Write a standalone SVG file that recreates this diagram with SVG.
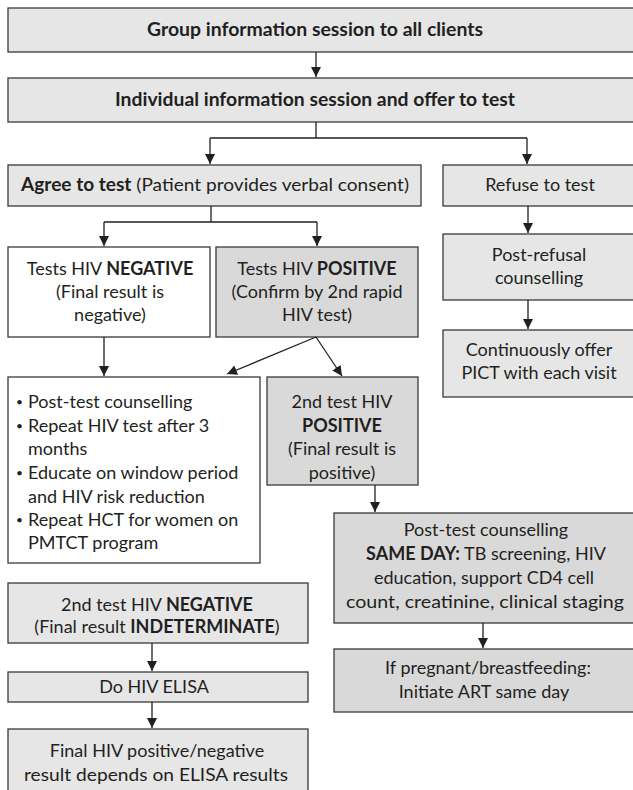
<svg xmlns="http://www.w3.org/2000/svg" width="633" height="790" viewBox="0 0 633 790">
<style>
  .box{stroke:#3a3a3a;stroke-width:1.3}
  .l{fill:#e6e6e7}
  .d{fill:#d9d9da}
  .w{fill:#ffffff}
  text{font-family:Lato,"Open Sans","Liberation Sans",sans-serif;font-size:18px;fill:#231f20}
  .c{text-anchor:middle}
  .b{font-weight:bold}
  .bu{font-size:12px}
  .con{stroke:#231f20;stroke-width:1.3;fill:none}
</style>
<defs>
  <marker id="ah" viewBox="0 0 10 10" refX="10" refY="5" markerWidth="10" markerHeight="11" markerUnits="userSpaceOnUse" orient="auto">
    <path d="M0,0 L10,5 L0,10 z" fill="#231f20"/>
  </marker>
</defs>
<rect width="633" height="790" fill="#ffffff"/>

<g id="n1"><rect class="box l" x="8" y="8" width="640" height="44"/><text class="c b" x="315" y="36" textLength="336" lengthAdjust="spacingAndGlyphs">Group information session to all clients</text></g>
<g id="n2"><rect class="box l" x="8" y="78" width="640" height="44"/><text class="c b" x="315" y="106" textLength="400" lengthAdjust="spacingAndGlyphs">Individual information session and offer to test</text></g>
<g id="n3"><rect class="box l" x="8" y="165" width="413" height="41"/><text class="c" x="215" y="191" textLength="388" lengthAdjust="spacingAndGlyphs"><tspan class="b">Agree to test</tspan> (Patient provides verbal consent)</text></g>
<g id="n4"><rect class="box l" x="443" y="165" width="200" height="41"/><text class="c" x="540" y="191">Refuse to test</text></g>
<g id="n5"><rect class="box w" x="8" y="247" width="202" height="90"/><text class="c" x="110" y="275">Tests HIV <tspan class="b">NEGATIVE</tspan></text><text class="c" x="110" y="298">(Final result is</text><text class="c" x="110" y="321">negative)</text></g>
<g id="n6"><rect class="box d" x="216" y="247" width="202" height="90"/><text class="c" x="317" y="275">Tests HIV <tspan class="b">POSITIVE</tspan></text><text class="c" x="317" y="298">(Confirm by 2nd rapid</text><text class="c" x="317" y="321">HIV test)</text></g>
<g id="n7"><rect class="box l" x="443" y="234" width="200" height="66"/><text class="c" x="539" y="261">Post-refusal</text><text class="c" x="539" y="284">counselling</text></g>
<g id="n8"><rect class="box l" x="443" y="330" width="200" height="67"/><text class="c" x="539" y="356">Continuously offer</text><text class="c" x="539" y="379">PICT with each visit</text></g>
<g id="n9"><rect class="box w" x="8" y="377" width="252" height="186"/>
  <text class="bu" x="16" y="406">•</text><text x="28" y="408">Post-test counselling</text>
  <text class="bu" x="16" y="430">•</text><text x="28" y="432">Repeat HIV test after 3</text>
  <text x="28" y="455">months</text>
  <text class="bu" x="16" y="477">•</text><text x="28" y="479">Educate on window period</text>
  <text x="28" y="503">and HIV risk reduction</text>
  <text class="bu" x="16" y="524">•</text><text x="28" y="526">Repeat HCT for women on</text>
  <text x="28" y="549">PMTCT program</text>
</g>
<g id="n10"><rect class="box d" x="267" y="377" width="151" height="108"/><text class="c" x="342" y="408">2nd test HIV</text><text class="c b" x="342" y="432">POSITIVE</text><text class="c" x="342" y="455">(Final result is</text><text class="c" x="342" y="479">positive)</text></g>
<g id="n11"><rect class="box d" x="334" y="513" width="310" height="110"/><text class="c" x="486" y="536">Post-test counselling</text><text class="c" x="486" y="560"><tspan class="b">SAME DAY:</tspan> TB screening, HIV</text><text class="c" x="484" y="584">education, support CD4 cell</text><text class="c" x="485" y="608" textLength="278" lengthAdjust="spacingAndGlyphs">count, creatinine, clinical staging</text></g>
<g id="n12"><rect class="box l" x="8" y="583" width="300" height="60"/><text class="c" x="157" y="611">2nd test HIV <tspan class="b">NEGATIVE</tspan></text><text class="c" x="157" y="633">(Final result <tspan class="b">INDETERMINATE</tspan>)</text></g>
<g id="n13"><rect class="box d" x="334" y="649" width="310" height="63"/><text class="c" x="488" y="674">If pregnant/breastfeeding:</text><text class="c" x="484" y="698">Initiate ART same day</text></g>
<g id="n14"><rect class="box l" x="8" y="672" width="300" height="30"/><text class="c" x="154" y="693">Do HIV ELISA</text></g>
<g id="n15"><rect class="box l" x="8" y="729" width="300" height="70"/><text class="c" x="157" y="757">Final HIV positive/negative</text><text class="c" x="156" y="781" textLength="264" lengthAdjust="spacingAndGlyphs">result depends on ELISA results</text></g>

<g id="connectors">
  <path class="con" d="M316,52 V77" marker-end="url(#ah)"/>
  <path class="con" d="M316,122 V138 M210,138 H527"/>
  <path class="con" d="M210,138 V164" marker-end="url(#ah)"/>
  <path class="con" d="M527,138 V164" marker-end="url(#ah)"/>
  <path class="con" d="M211,206 V222 M104,222 H317"/>
  <path class="con" d="M104,222 V246" marker-end="url(#ah)"/>
  <path class="con" d="M317,222 V246" marker-end="url(#ah)"/>
  <path class="con" d="M528,206 V233" marker-end="url(#ah)"/>
  <path class="con" d="M528,300 V329" marker-end="url(#ah)"/>
  <path class="con" d="M104,337 V376" marker-end="url(#ah)"/>
  <path class="con" d="M316,337 L227,374" marker-end="url(#ah)"/>
  <path class="con" d="M316,337 L342,376" marker-end="url(#ah)"/>
  <path class="con" d="M375,485 V512" marker-end="url(#ah)"/>
  <path class="con" d="M483,623 V648" marker-end="url(#ah)"/>
  <path class="con" d="M152,643 V671" marker-end="url(#ah)"/>
  <path class="con" d="M152,702 V728" marker-end="url(#ah)"/>
</g>
</svg>
